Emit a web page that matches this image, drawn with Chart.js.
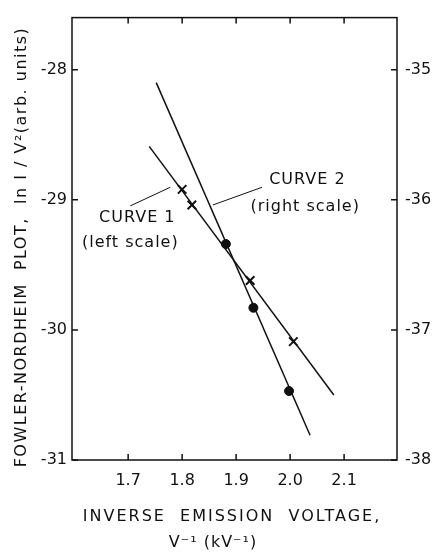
<!DOCTYPE html>
<html>
<head>
<meta charset="utf-8">
<script src="https://cdn.jsdelivr.net/npm/chart.js@4.4.1/dist/chart.umd.min.js"></script>
<style>
  html, body { margin: 0; padding: 0; background: #fff; }
  #wrap { width: 440px; height: 554px; }
</style>
</head>
<body>
<div id="wrap"><canvas id="fnChart" width="440" height="554"></canvas></div>
<script>
// Fowler-Nordheim plot, two curves on two y scales
const xTicks = [1.7, 1.8, 1.9, 2.0, 2.1];
const leftTicks = [-31, -30, -29, -28];
const rightTicks = [-38, -37, -36, -35];

// curve 1 (crosses, left scale)
const curve1X = [1.800, 1.818, 1.926, 2.006];
const curve1Y = [-28.92, -29.04, -29.62, -30.09];
const fit1X = [1.739, 2.081];
const fit1Y = [-28.59, -30.50];

// curve 2 (dots, right scale)
const curve2X = [1.881, 1.932, 1.998];
const curve2Y = [-36.34, -36.83, -37.47];
const fit2X = [1.752, 2.037];
const fit2Y = [-35.10, -37.81];

const INK = '#111';
const FONT = '"DejaVu Sans", sans-serif';

const toPoints = (xs, ys) => xs.map((x, i) => ({ x, y: ys[i] }));

// frame, inward ticks, titles and curve labels
const annotations = {
  id: 'annotations',
  afterDraw(chart) {
    const ctx = chart.ctx;
    const a = chart.chartArea;
    const sx = chart.scales.x, sy = chart.scales.y, sy2 = chart.scales.y2;
    const px = v => sx.getPixelForValue(v);
    const py = v => sy.getPixelForValue(v);

    ctx.save();
    ctx.strokeStyle = INK;
    ctx.fillStyle = INK;
    ctx.lineWidth = 1.5;
    ctx.strokeRect(a.left, a.top, a.right - a.left, a.bottom - a.top);

    ctx.beginPath();
    xTicks.forEach(v => {
      ctx.moveTo(px(v), a.bottom); ctx.lineTo(px(v), a.bottom - 6);
      ctx.moveTo(px(v), a.top); ctx.lineTo(px(v), a.top + 6);
    });
    leftTicks.forEach(v => {
      ctx.moveTo(a.left, py(v)); ctx.lineTo(a.left + 6, py(v));
    });
    rightTicks.forEach(v => {
      const y = sy2.getPixelForValue(v);
      ctx.moveTo(a.right, y); ctx.lineTo(a.right - 6, y);
    });
    ctx.stroke();

    // leader lines
    ctx.lineWidth = 1;
    ctx.beginPath();
    ctx.moveTo(px(1.704), py(-29.047)); ctx.lineTo(px(1.778), py(-28.904));
    ctx.moveTo(px(1.857), py(-29.04)); ctx.lineTo(px(1.948), py(-28.904));
    ctx.stroke();

    ctx.font = '16px ' + FONT;
    ctx.letterSpacing = '1px';
    ctx.textAlign = 'center';
    ctx.textBaseline = 'middle';
    ctx.fillText('CURVE 2', px(2.032), py(-28.85));
    ctx.fillText('(right scale)', px(2.028), py(-29.055));
    ctx.fillText('CURVE 1', px(1.717), py(-29.14));
    ctx.fillText('(left scale)', px(1.704), py(-29.334));

    // x title
    ctx.letterSpacing = '2px';
    ctx.fillText('INVERSE  EMISSION  VOLTAGE,', 232, 517);
    ctx.letterSpacing = '1px';
    ctx.fillText('V\u207B\u00B9 (kV\u207B\u00B9)', 213, 543);

    // y title, rotated
    ctx.translate(22, 247);
    ctx.rotate(-Math.PI / 2);
    ctx.letterSpacing = '1.5px';
    ctx.fillText('FOWLER-NORDHEIM  PLOT,  ln I / V\u00B2(arb. units)', 0, 0);
    ctx.restore();
  }
};

const ctx = document.getElementById('fnChart').getContext('2d');
new Chart(ctx, {
  type: 'scatter',
  data: {
    datasets: [
      {
        label: 'Curve 1 fit', data: toPoints(fit1X, fit1Y), yAxisID: 'y',
        showLine: true, borderColor: INK, borderWidth: 1.5, pointRadius: 0
      },
      {
        label: 'Curve 1', data: toPoints(curve1X, curve1Y), yAxisID: 'y',
        pointStyle: 'crossRot', pointRadius: 6, borderColor: INK, borderWidth: 2
      },
      {
        label: 'Curve 2 fit', data: toPoints(fit2X, fit2Y), yAxisID: 'y2',
        showLine: true, borderColor: INK, borderWidth: 1.5, pointRadius: 0
      },
      {
        label: 'Curve 2', data: toPoints(curve2X, curve2Y), yAxisID: 'y2',
        pointStyle: 'circle', pointRadius: 4.5, backgroundColor: INK, borderColor: INK, borderWidth: 1
      }
    ]
  },
  options: {
    responsive: false,
    animation: false,
    layout: { padding: { top: 9, left: 0, right: 0, bottom: 0 } },
    plugins: { legend: { display: false }, tooltip: { enabled: false } },
    scales: {
      x: {
        type: 'linear', min: 1.596, max: 2.198,
        afterBuildTicks: s => { s.ticks = xTicks.map(v => ({ value: v })); },
        afterFit: s => { s.height = 94; },
        grid: { display: false, drawTicks: false },
        border: { display: false },
        ticks: { color: INK, padding: 11, font: { family: FONT, size: 16 }, callback: v => v.toFixed(1) }
      },
      y: {
        position: 'left', min: -31, max: -27.6,
        afterBuildTicks: s => { s.ticks = leftTicks.map(v => ({ value: v })); },
        afterFit: s => { s.width = 72; },
        grid: { display: false, drawTicks: false },
        border: { display: false },
        ticks: { color: INK, padding: 5, font: { family: FONT, size: 16 } }
      },
      y2: {
        position: 'right', min: -38, max: -34.6,
        afterBuildTicks: s => { s.ticks = rightTicks.map(v => ({ value: v })); },
        afterFit: s => { s.width = 43; },
        grid: { display: false, drawTicks: false },
        border: { display: false },
        ticks: { color: INK, padding: 8, font: { family: FONT, size: 16 } }
      }
    }
  },
  plugins: [annotations]
});
</script>
</body>
</html>
